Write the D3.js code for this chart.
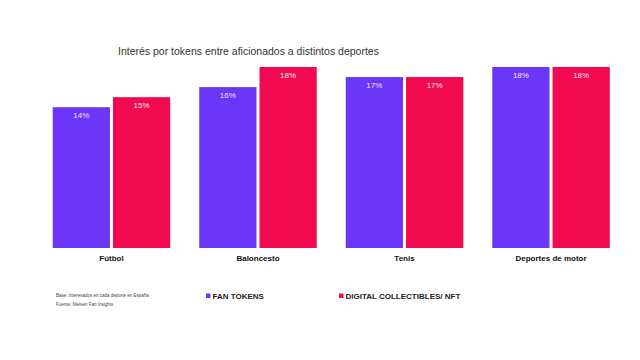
<!DOCTYPE html>
<html>
<head>
<meta charset="utf-8">
<script src="https://cdn.jsdelivr.net/npm/d3@7"></script>
<style>
  body { margin: 0; background: #fff; }
  svg { display: block; font-family: "Liberation Sans", Arial, sans-serif; }
</style>
</head>
<body>
<svg width="640" height="360"></svg>
<script>
// chart data
var categories = ["Fútbol", "Baloncesto", "Tenis", "Deportes de motor"];
var fanTokens = [14, 16, 17, 18];
var nftValues = [15, 18, 17, 18];
var seriesNames = ["FAN TOKENS", "DIGITAL COLLECTIBLES/ NFT"];
var seriesColors = ["#6b36f8", "#f20a50"];

var svg = d3.select("svg");

var x0 = d3.scaleBand()
    .domain(categories)
    .range([52.7, 609.8])
    .paddingInner(0.198)
    .paddingOuter(0);

var x1 = d3.scaleBand()
    .domain([0, 1])
    .range([0, x0.bandwidth()])
    .paddingInner(0.05);

var y = d3.scaleLinear()
    .domain([0, 18])
    .range([248, 67]);

// title
svg.append("text")
    .attr("x", 118)
    .attr("y", 55)
    .attr("font-size", 10.5)
    .attr("fill", "#333")
    .text("Interés por tokens entre aficionados a distintos deportes");

var rows = categories.map(function (c, i) {
    return { cat: c, vals: [fanTokens[i], nftValues[i]] };
});

var groups = svg.append("g")
    .selectAll("g")
    .data(rows)
    .enter()
    .append("g")
    .attr("transform", function (d) { return "translate(" + x0(d.cat) + ",0)"; });

groups.selectAll("rect")
    .data(function (d) { return d.vals; })
    .enter()
    .append("rect")
    .attr("x", function (d, i) { return x1(i); })
    .attr("y", function (d) { return y(d); })
    .attr("width", x1.bandwidth())
    .attr("height", function (d) { return y(0) - y(d); })
    .attr("fill", function (d, i) { return seriesColors[i]; });

groups.selectAll("text.val")
    .data(function (d) { return d.vals; })
    .enter()
    .append("text")
    .attr("class", "val")
    .attr("x", function (d, i) { return x1(i) + x1.bandwidth() / 2; })
    .attr("y", function (d) { return y(d) + 11; })
    .attr("text-anchor", "middle")
    .attr("font-size", 8)
    .attr("fill", "#f0e6ff")
    .text(function (d) { return d + "%"; });

// category labels
var xAxis = svg.append("g")
    .attr("transform", "translate(0,248)")
    .call(d3.axisBottom(x0).tickSize(0).tickPadding(7));
xAxis.select(".domain").remove();
xAxis.selectAll("text")
    .attr("font-size", 8)
    .attr("font-weight", "bold")
    .attr("fill", "#111")
    .style("font-family", "\"Liberation Sans\", Arial, sans-serif");

// footnotes
svg.append("text")
    .attr("x", 56).attr("y", 296.5)
    .attr("font-size", 4.5).attr("fill", "#444")
    .text("Base: Interesados en cada deporte en España");
svg.append("text")
    .attr("x", 56).attr("y", 305.5)
    .attr("font-size", 4.5).attr("fill", "#444")
    .text("Fuente: Nielsen Fan Insights");

// legend
var legendX = [206, 339];
var legend = svg.append("g")
    .selectAll("g")
    .data(seriesNames)
    .enter()
    .append("g")
    .attr("transform", function (d, i) { return "translate(" + legendX[i] + ",296)"; });

legend.append("rect")
    .attr("x", 0).attr("y", -2.5)
    .attr("width", 4.5).attr("height", 4.5)
    .attr("fill", function (d, i) { return seriesColors[i]; });

legend.append("text")
    .attr("x", 6.5).attr("y", 3)
    .attr("font-size", 8)
    .attr("font-weight", "bold")
    .attr("fill", "#222")
    .text(function (d) { return d; });
</script>
</body>
</html>
